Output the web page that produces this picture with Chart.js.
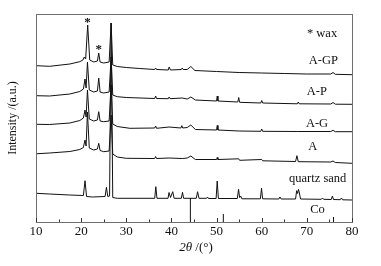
<!DOCTYPE html>
<html>
<head>
<meta charset="utf-8">
<script src="https://cdn.jsdelivr.net/npm/chart.js@4/dist/chart.umd.min.js"></script>
<style>
  html, body { margin: 0; padding: 0; background: #fff; }
  canvas { display: block; }
</style>
</head>
<body>
<canvas id="xrd" width="381" height="266"></canvas>
<script>
// XRD patterns, [2theta, stacked intensity]
const patternAGP = [
  [10, 156.3], [13, 155.7], [17.5, 158], [19.7, 160.3], [20.4, 162], [20.7, 165], [21.0, 163],
  [21.45, 197], [21.9, 162], [22.8, 160], [23.6, 161], [23.9, 169], [24.2, 160], [25, 159],
  [26.2, 160], [26.64, 199], [27.0, 157], [28, 155.5], [30, 154.5], [33, 153.5], [36.3, 152.5],
  [36.5, 154], [36.7, 152.5], [39.3, 152], [39.5, 155], [39.8, 152], [42.2, 152.5], [42.4, 154],
  [42.6, 152.5], [43.5, 152.5], [44.3, 155.5], [45.2, 151.5], [50, 150.5], [55, 149.5],
  [60, 149], [65, 148.5], [70, 148], [75.3, 148], [75.8, 149.5], [76.3, 147.7], [80, 147.3]
];
const patternAP = [
  [10, 126.3], [13, 126], [17.5, 128], [19.7, 130.5], [20.5, 133], [20.85, 143], [21.1, 134],
  [21.4, 160], [21.8, 132], [22.8, 130], [23.6, 131], [23.9, 144], [24.2, 130], [25, 129],
  [26.2, 130], [26.64, 165], [27.0, 127], [28, 125.3], [30, 124.5], [36.3, 123.5], [36.5, 126],
  [36.7, 123.5], [39.3, 123.3], [39.5, 125], [39.7, 123.3], [42.4, 124], [43.5, 123], [44.3, 125],
  [45.3, 122], [50.0, 121], [50.15, 126], [50.3, 121], [54.7, 120], [54.9, 124.5], [55.1, 119.7],
  [59.8, 119], [60.0, 121.5], [60.2, 119], [67.9, 118.2], [68.1, 120], [68.3, 118.2],
  [75.3, 118], [75.8, 119.5], [76.3, 117.8], [80, 117.7]
];
const patternAG = [
  [10, 97.7], [13, 97.5], [17.5, 99], [19.7, 101.5], [20.5, 104], [20.85, 112], [21.1, 105],
  [21.4, 132], [21.8, 103], [22.8, 101], [23.6, 102], [23.9, 110.3], [24.2, 101], [25, 100.3],
  [26.2, 101], [26.64, 137], [27.0, 98], [28, 95.5], [30.8, 93.7], [36.3, 94], [36.5, 96],
  [36.7, 93.7], [39.5, 95], [42.1, 94], [42.3, 96.3], [42.5, 94], [43.5, 94.5], [44.3, 97],
  [45.3, 92.5], [50.0, 92], [50.15, 96.5], [50.3, 92], [55, 91], [59.8, 90.7], [60.0, 93],
  [60.2, 90.7], [68.0, 90.5], [75.3, 90.5], [75.8, 91.7], [76.3, 90.3], [80, 90.3]
];
const patternA = [
  [10, 68.2], [13, 69], [17.5, 70.5], [19.7, 72.5], [20.5, 74.5], [20.85, 82], [21.1, 76],
  [21.4, 110], [21.8, 74], [22.8, 72], [23.6, 73], [23.9, 78.7], [24.2, 71.5], [25, 70.3],
  [26.2, 71], [26.64, 107], [27.0, 68], [28, 65], [30, 63.7], [36.3, 63.5], [36.5, 65.5],
  [36.7, 63.5], [39.5, 64], [42.4, 63.5], [43.5, 64], [44.3, 66], [45.3, 62.5], [50.0, 62.5],
  [50.15, 64.5], [50.3, 62.5], [54.9, 63.2], [55.1, 61.7], [60, 62.5], [60.2, 61.2],
  [67.5, 60.5], [67.8, 66.3], [68.1, 60.3], [75.3, 60], [75.8, 61], [76.3, 59.5], [80, 58.7]
];
const patternQuartz = [
  [10, 28.7], [13, 28], [17.5, 27], [20.5, 26.5], [20.86, 41.3], [21.2, 25.5], [22.5, 25],
  [25.3, 25.5], [25.6, 34.7], [25.9, 25.5], [26.3, 26], [26.64, 199], [27.0, 24.5], [28, 23.7],
  [36.3, 23.7], [36.54, 35.3], [36.8, 23.7], [39.25, 23.7], [39.47, 29.5], [39.8, 24.5],
  [40.29, 30.3], [40.6, 23.7], [42.2, 23.7], [42.45, 29.7], [42.7, 23.7], [45.5, 23.7],
  [45.79, 30.3], [46.1, 23.7], [47.8, 23.7], [48.0, 25], [48.2, 23.5], [49.9, 23.5],
  [50.14, 41], [50.4, 23.5], [54.6, 23.5], [54.87, 32.7], [55.1, 24.5], [55.33, 26],
  [55.6, 23.2], [59.7, 23.2], [59.96, 33.7], [60.2, 23.2], [63.8, 23], [64.04, 25], [64.3, 23],
  [67.5, 23], [67.74, 31.3], [67.95, 28.5], [68.14, 32.7], [68.3, 30], [68.6, 23],
  [73.2, 22.7], [73.46, 24], [73.7, 22.7], [75.4, 22.5], [75.66, 26], [75.9, 22.5],
  [77.4, 22.3], [77.67, 24], [77.9, 22.2], [80, 22]
];
// Co reference pattern: stick position and height
const coSticks = [[44.2, 24], [51.5, 8], [75.9, 5]];

const xTicksMajor = [10, 20, 30, 40, 50, 60, 70, 80];
const xTicksMinor = [15, 25, 35, 45, 55, 65, 75];

const serif = "'Liberation Serif', 'Times New Roman', serif";

function toPoints(arr) {
  return arr.map(p => ({ x: p[0], y: p[1] }));
}

function curve(arr) {
  return {
    data: toPoints(arr),
    borderColor: "#111",
    borderWidth: 1,
    pointRadius: 0,
    tension: 0,
    fill: false,
  };
}

// sticks drawn as separate vertical segments (null breaks the line)
function sticks(arr) {
  const pts = [];
  arr.forEach(s => {
    pts.push({ x: s[0], y: 0 }, { x: s[0], y: s[1] }, { x: s[0], y: null });
  });
  return {
    data: pts,
    borderColor: "#111",
    borderWidth: 1,
    pointRadius: 0,
    spanGaps: false,
  };
}

// labels in data coordinates
const notes = [
  { text: "* wax", x: 73.36, y: 188.7 },
  { text: "A-GP", x: 73.65, y: 161 },
  { text: "A-P", x: 72.2, y: 130.3 },
  { text: "A-G", x: 72.25, y: 98.7 },
  { text: "A", x: 71.3, y: 75.3 },
  { text: "quartz sand", x: 72.4, y: 43 },
  { text: "Co", x: 72.35, y: 12 },
];
const stars = [
  { x: 21.4, y: 199 },
  { x: 23.9, y: 172 },
];

const decorations = {
  id: "decorations",
  afterDraw(chart) {
    const { ctx, chartArea: a, scales } = chart;
    const xs = scales.x, ys = scales.y;
    ctx.save();
    // frame
    ctx.strokeStyle = "#6f6f6f";
    ctx.lineWidth = 1;
    ctx.strokeRect(Math.round(a.left) + 0.5, Math.round(a.top) + 0.5,
      Math.round(a.right - a.left), Math.round(a.bottom - a.top));
    // inward ticks
    ctx.strokeStyle = "#333";
    ctx.beginPath();
    xTicksMajor.forEach(v => {
      const px = Math.round(xs.getPixelForValue(v)) + 0.5;
      ctx.moveTo(px, a.bottom); ctx.lineTo(px, a.bottom - 4);
    });
    xTicksMinor.forEach(v => {
      const px = Math.round(xs.getPixelForValue(v)) + 0.5;
      ctx.moveTo(px, a.bottom); ctx.lineTo(px, a.bottom - 2.5);
    });
    ctx.stroke();
    // series labels
    ctx.fillStyle = "#111";
    ctx.textAlign = "center";
    ctx.textBaseline = "middle";
    ctx.font = "12.5px " + serif;
    notes.forEach(n => {
      ctx.fillText(n.text, xs.getPixelForValue(n.x), ys.getPixelForValue(n.y));
    });
    ctx.font = "bold 13px " + serif;
    stars.forEach(s => {
      ctx.fillText("*", xs.getPixelForValue(s.x), ys.getPixelForValue(s.y));
    });
    // x title with italic 2θ
    ctx.textAlign = "left";
    const it = "italic 13px " + serif, up = "13px " + serif;
    ctx.font = it; const w1 = ctx.measureText("2θ").width;
    ctx.font = up; const w2 = ctx.measureText(" /(°)").width;
    const cx = (a.left + a.right) / 2 + 2;
    let tx = cx - (w1 + w2) / 2;
    ctx.font = it; ctx.fillText("2θ", tx, 248);
    ctx.font = up; ctx.fillText(" /(°)", tx + w1, 248);
    ctx.restore();
  },
};

new Chart(document.getElementById("xrd"), {
  type: "line",
  data: {
    datasets: [
      curve(patternAGP),
      curve(patternAP),
      curve(patternAG),
      curve(patternA),
      curve(patternQuartz),
      sticks(coSticks),
    ],
  },
  options: {
    responsive: false,
    animation: false,
    devicePixelRatio: 1,
    layout: { padding: { top: 14, right: 29, left: 0, bottom: 0 } },
    plugins: {
      legend: { display: false },
      tooltip: { enabled: false },
    },
    scales: {
      x: {
        type: "linear",
        min: 10,
        max: 80,
        offset: false,
        grid: { display: false, drawTicks: false },
        border: { display: false },
        ticks: {
          stepSize: 10,
          padding: 2,
          color: "#111",
          font: { family: serif, size: 13 },
        },
        afterFit(scale) { scale.height = 44; },
      },
      y: {
        min: 0,
        max: 208,
        grid: { display: false, drawTicks: false },
        border: { display: false },
        ticks: { display: false },
        title: {
          display: true,
          text: "Intensity /(a.u.)",
          color: "#111",
          font: { family: serif, size: 12 },
          padding: { top: 6, bottom: 0 },
        },
        afterFit(scale) { scale.width = 36; },
      },
    },
  },
  plugins: [decorations],
});
</script>
</body>
</html>
